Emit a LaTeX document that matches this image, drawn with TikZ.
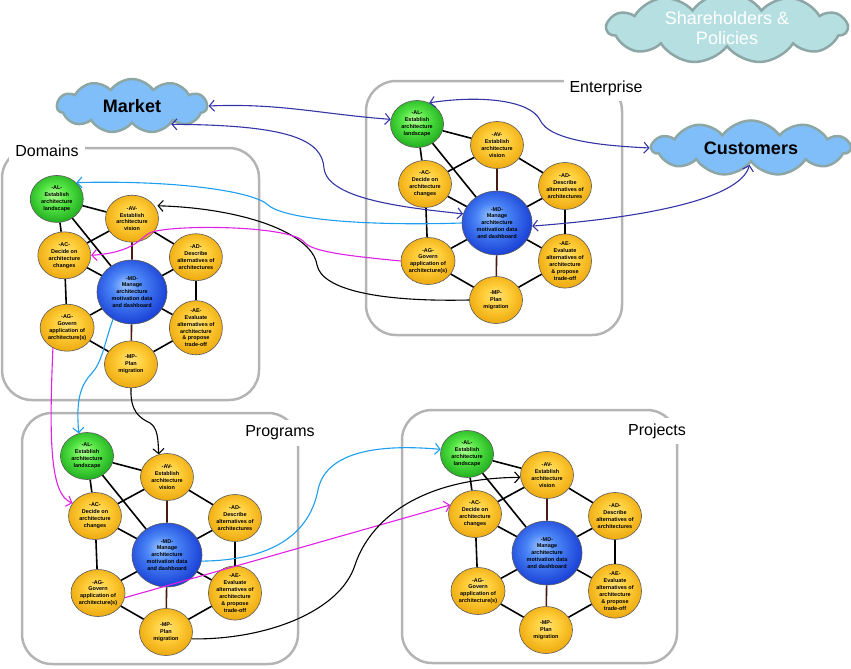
\documentclass[tikz,border=0pt]{standalone}
\usepackage{fontspec}
\setmainfont{Liberation Sans}
\usetikzlibrary{arrows.meta,shapes.geometric,shapes.symbols}
\definecolor{ylight}{HTML}{FFE27A}
\definecolor{ymid}{HTML}{FFCE3A}
\definecolor{ydark}{HTML}{EEAA10}
\definecolor{glight}{HTML}{B4FF96}
\definecolor{gmid}{HTML}{55E545}
\definecolor{gdark}{HTML}{22B020}
\definecolor{blight}{HTML}{9CC4FF}
\definecolor{bmid}{HTML}{4A84F6}
\definecolor{bdark}{HTML}{1C44D8}
\definecolor{navyarrow}{HTML}{3434A6}
\definecolor{cyanarrow}{HTML}{1E9EF0}
\definecolor{pinkarrow}{HTML}{E020E6}
\definecolor{skyfill}{HTML}{80BEFA}
\definecolor{palefill}{HTML}{B6DFE2}
\definecolor{cloudedge}{HTML}{8DA6A6}
\definecolor{framegray}{HTML}{B4B4B4}
\definecolor{spoke}{HTML}{4A1A12}
\pgfdeclareradialshading{yellowball}{\pgfpoint{0bp}{5bp}}{color(0bp)=(ylight); color(12bp)=(ymid); color(27bp)=(ydark); color(50bp)=(ydark)}
\pgfdeclareradialshading{greenball}{\pgfpoint{-3bp}{5bp}}{color(0bp)=(glight); color(12bp)=(gmid); color(27bp)=(gdark); color(50bp)=(gdark)}
\pgfdeclareradialshading{blueball}{\pgfpoint{-5bp}{6bp}}{color(0bp)=(blight); color(11bp)=(bmid); color(27bp)=(bdark); color(50bp)=(bdark)}
\tikzset{link tip/.tip={Straight Barb[length=5pt,width=11pt]}}

\begin{document}
\begin{tikzpicture}[x=1pt,y=-1pt,
            stage/.style={ellipse,draw=black!65,line width=0.6pt,minimum width=53pt,minimum height=47pt,
                inner sep=0pt,align=center,font=\fontsize{5.5}{6.9}\selectfont\bfseries},
            yellowstage/.style={stage,shading=yellowball},
            greenstage/.style={stage,shading=greenball},
            bluestage/.style={stage,shading=blueball,minimum width=70pt,minimum height=64pt},
            frame/.style={draw=framegray,line width=2.5pt,rounded corners=30pt},
            framelabel/.style={fill=white,inner sep=6pt,font=\fontsize{16}{18}\selectfont},
            bubble/.style={cloud,cloud puffs=11,cloud puff arc=110,cloud ignores aspect,
                draw=cloudedge,line width=2.5pt,inner sep=0pt,align=center},
            spokeline/.style={line width=1.6pt},
            link/.style={line width=1.1pt,-link tip},
            twoway/.style={line width=1.1pt,link tip-link tip}
            ]
            \useasboundingbox (0,0) rectangle (851,669);

            \draw[frame] (366,81) rectangle (622,335);
            \draw[frame] (2,148) rectangle (259,400);
            \draw[frame] (22,413) rectangle (298,664);
            \draw[frame] (402,410) rectangle (677,663);
            \node[framelabel] (entlabel) at (606,88) {Enterprise};
            \node[framelabel] (domlabel) at (47,151) {Domains};
            \node[framelabel] (proglabel) at (280,433) {Programs};
            \node[framelabel] (projlabel) at (657,431) {Projects};

            \node[bubble,fill=skyfill,minimum width=150pt,minimum height=54pt,
                font=\fontsize{18}{20}\selectfont\bfseries] (market) at (132,106) {Market};
            \node[bubble,fill=skyfill,minimum width=198pt,minimum height=55pt,
                font=\fontsize{18}{20}\selectfont\bfseries] (customers) at (751,148) {Customers};
            \node[bubble,fill=palefill,text=white,minimum width=240pt,minimum height=54pt,
                font=\fontsize{18}{20}\selectfont] (owners) at (727,28) {Shareholders \&\\Policies};

            \foreach \name/\cx/\cy/\fac in {ent/497/223/1,dom/132/292/0.94,prog/167/555/1,proj/547/553/1} {
                \node[bluestage] (\name-MD) at (\cx,\cy) {-MD-\\Manage\\architecture\\motivation data\\and dashboard};
                \node[greenstage] (\name-AL) at ({\cx+\fac*(-80)},{\cy+\fac*(-99)}) {-AL-\\Establish\\architecture\\landscape};
                \node[yellowstage] (\name-AV) at ({\cx},{\cy+\fac*(-78)}) {-AV-\\Establish\\architecture\\vision};
                \node[yellowstage] (\name-AC) at ({\cx+\fac*(-72)},{\cy+\fac*(-39)}) {-AC-\\Decide on\\architecture\\changes};
                \node[yellowstage] (\name-AD) at ({\cx+\fac*68},{\cy+\fac*(-37)}) {-AD-\\Describe\\alternatives of\\architectures};
                \node[yellowstage] (\name-AG) at ({\cx+\fac*(-69)},{\cy+\fac*38}) {-AG-\\Govern\\application of\\architecture(s)};
                \node[yellowstage] (\name-AE) at ({\cx+\fac*68},{\cy+\fac*38}) {-AE-\\Evaluate\\alternatives of\\architecture\\\& propose\\trade-off};
                \node[yellowstage] (\name-MP) at ({\cx-1},{\cy+\fac*77}) {-MP-\\Plan\\migration};
                \foreach \a/\b in {AL/AV,AL/AC,AL/MD,AV/AC,AV/AD,AC/MD,AC/AG,AD/MD,AD/AE,MD/AG,MD/AE,AG/MP,AE/MP}
                    \draw[spokeline] (\name-\a) -- (\name-\b);
                \draw[spokeline,draw=spoke] (\name-AV) -- (\name-MD) (\name-MD) -- (\name-MP);
            }

            \draw[twoway,navyarrow] (market.east) .. controls (280,103) and (320,114) .. (ent-AL.170);
            \draw[twoway,navyarrow] (market.-25) .. controls (290,125) and (322,140) .. (324,168)
                .. controls (327,200) and (410,208) .. (ent-MD.165);
            \draw[twoway,navyarrow] (ent-AL.60) .. controls (480,95) and (530,100) .. (540,120)
                .. controls (550,142) and (610,146) .. (customers.west);
            \draw[twoway,navyarrow] (customers.-95) .. controls (740,200) and (640,218) .. (ent-MD.-5);
            \draw[link,cyanarrow] (ent-MD.west) .. controls (370,226) and (285,220) .. (268,205)
                .. controls (255,192) and (180,180) .. (dom-AL.40);
            \draw[link,shorten >=3pt] (ent-MP.west) .. controls (380,302) and (322,290) .. (317,265)
                .. controls (312,232) and (240,208) .. (dom-AV.30);
            \draw[link,pinkarrow] (ent-AG.west) .. controls (350,256) and (312,252) .. (304,242)
                .. controls (292,226) and (180,224) .. (152,232) .. controls (140,236) and (138,252) .. (dom-AC.east);
            \draw[link,cyanarrow] (dom-MD.235) .. controls (104,345) and (102,362) .. (92,373)
                .. controls (80,386) and (76,400) .. (prog-AL.110);
            \draw[link,pinkarrow] (dom-AG.235) .. controls (49,440) and (50,495) .. (prog-AC.150);
            \draw[link] (dom-MP.south) .. controls (130,412) and (140,418) .. (150,423)
                .. controls (158,428) and (158,440) .. (prog-AV.110);
            \draw[link,cyanarrow] (prog-MD.-10) .. controls (290,560) and (312,520) .. (318,490)
                .. controls (325,455) and (370,443) .. (proj-AL.170);
            \draw[link,pinkarrow] (prog-AG.-10) -- (proj-AC.160);
            \draw[link] (prog-MP.-15) .. controls (265,640) and (340,612) .. (355,565)
                .. controls (370,520) and (420,478) .. (proj-AV.185);
        \end{tikzpicture}
\end{document}
